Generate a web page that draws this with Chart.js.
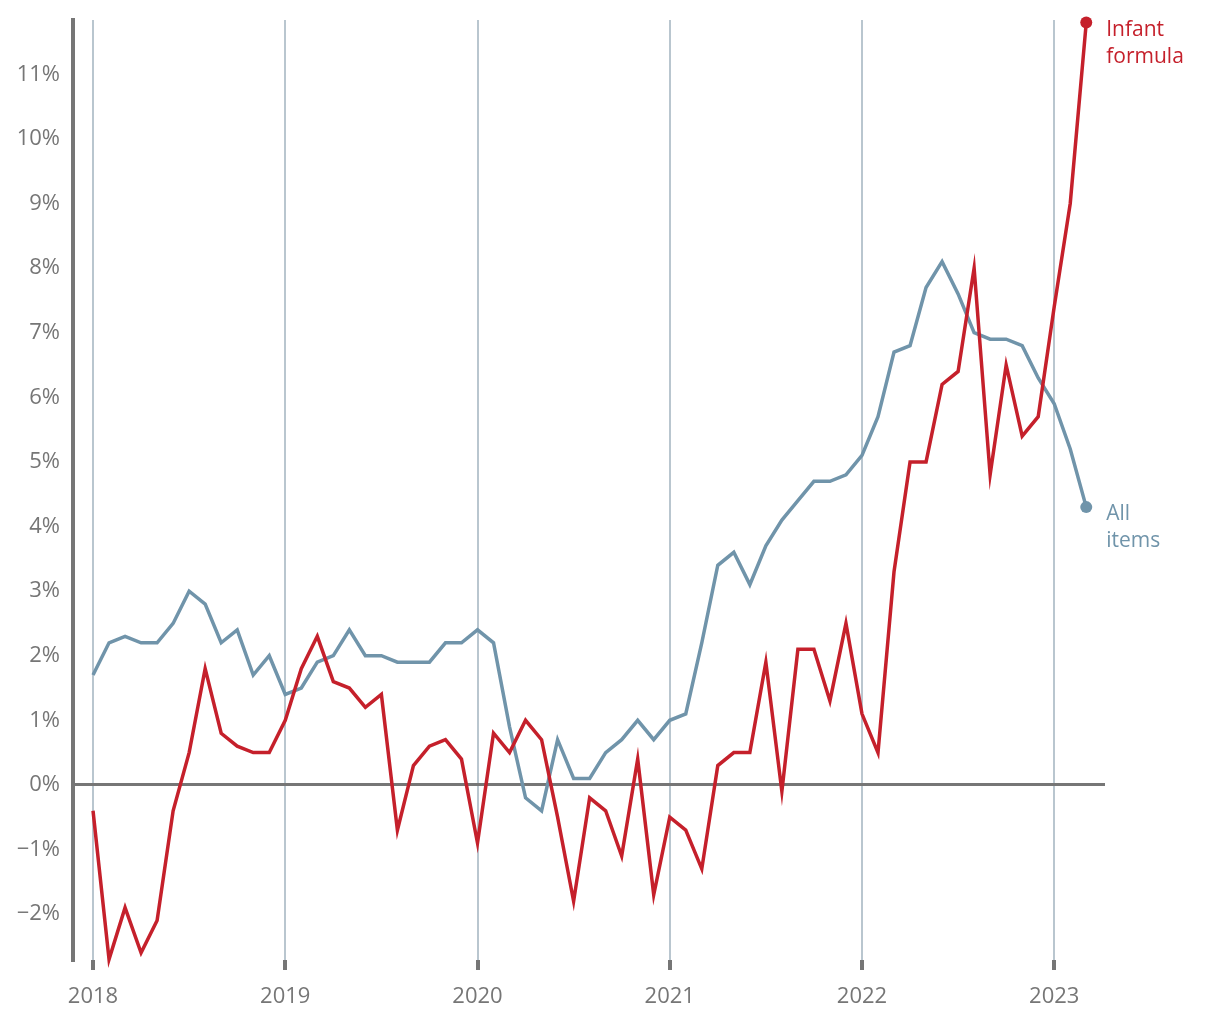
<!DOCTYPE html>
<html>
<head>
<meta charset="utf-8">
<script src="https://cdn.jsdelivr.net/npm/chart.js@4.4.0/dist/chart.umd.min.js"></script>
<style>
  body { margin: 0; background: #fff; }
  canvas { display: block; }
</style>
</head>
<body>
<canvas id="cpi" width="1220" height="1020"></canvas>
<script>
// monthly, Jan 2018 - Mar 2023
var months = [
  '2018-01','2018-02','2018-03','2018-04','2018-05','2018-06','2018-07','2018-08','2018-09','2018-10','2018-11','2018-12',
  '2019-01','2019-02','2019-03','2019-04','2019-05','2019-06','2019-07','2019-08','2019-09','2019-10','2019-11','2019-12',
  '2020-01','2020-02','2020-03','2020-04','2020-05','2020-06','2020-07','2020-08','2020-09','2020-10','2020-11','2020-12',
  '2021-01','2021-02','2021-03','2021-04','2021-05','2021-06','2021-07','2021-08','2021-09','2021-10','2021-11','2021-12',
  '2022-01','2022-02','2022-03','2022-04','2022-05','2022-06','2022-07','2022-08','2022-09','2022-10','2022-11','2022-12',
  '2023-01','2023-02','2023-03'
];

var infantFormula = [
  -0.4, -2.7, -1.9, -2.6, -2.1, -0.4, 0.5, 1.8, 0.8, 0.6, 0.5, 0.5,
  1.0, 1.8, 2.3, 1.6, 1.5, 1.2, 1.4, -0.7, 0.3, 0.6, 0.7, 0.4,
  -0.9, 0.8, 0.5, 1.0, 0.7, -0.5, -1.8, -0.2, -0.4, -1.1, 0.4, -1.7,
  -0.5, -0.7, -1.3, 0.3, 0.5, 0.5, 1.9, -0.1, 2.1, 2.1, 1.3, 2.5,
  1.1, 0.5, 3.3, 5.0, 5.0, 6.2, 6.4, 8.0, 4.8, 6.5, 5.4, 5.7,
  7.4, 9.0, 11.8
];

var allItems = [
  1.7, 2.2, 2.3, 2.2, 2.2, 2.5, 3.0, 2.8, 2.2, 2.4, 1.7, 2.0,
  1.4, 1.5, 1.9, 2.0, 2.4, 2.0, 2.0, 1.9, 1.9, 1.9, 2.2, 2.2,
  2.4, 2.2, 0.9, -0.2, -0.4, 0.7, 0.1, 0.1, 0.5, 0.7, 1.0, 0.7,
  1.0, 1.1, 2.2, 3.4, 3.6, 3.1, 3.7, 4.1, 4.4, 4.7, 4.7, 4.8,
  5.1, 5.7, 6.7, 6.8, 7.7, 8.1, 7.6, 7.0, 6.9, 6.9, 6.8, 6.3,
  5.9, 5.2, 4.3
];

var yTicks = [-2, -1, 0, 1, 2, 3, 4, 5, 6, 7, 8, 9, 10, 11];

var RED = '#c5202b';
var BLUE = '#7094aa';
var GREY = '#767676';
var FONT = '"Open Sans", "Noto Sans", sans-serif';

function toPoints(arr) {
  return arr.map(function(v, i) { return { x: i, y: v }; });
}

function lastDot(ctx) {
  return ctx.dataIndex === ctx.dataset.data.length - 1 ? 6 : 0;
}

// writes the series name next to its last point
var endLabels = {
  id: 'endLabels',
  afterDatasetsDraw: function(chart) {
    var c = chart.ctx;
    chart.data.datasets.forEach(function(ds, i) {
      var meta = chart.getDatasetMeta(i);
      var pt = meta.data[meta.data.length - 1];
      c.save();
      c.font = '21px ' + FONT;
      c.fillStyle = ds.borderColor;
      c.textAlign = 'left';
      c.textBaseline = 'middle';
      ds.endText.forEach(function(t, k) {
        c.fillText(t, pt.x + 20, pt.y + 7 + k * 27);
      });
      c.restore();
    });
  }
};

var ctx = document.getElementById('cpi').getContext('2d');
var chart = new Chart(ctx, {
  type: 'line',
  data: {
    datasets: [
      { label: 'Infant formula', endText: ['Infant', 'formula'], data: toPoints(infantFormula),
        borderColor: RED, backgroundColor: RED, pointBackgroundColor: RED },
      { label: 'All items', endText: ['All', 'items'], data: toPoints(allItems),
        borderColor: BLUE, backgroundColor: BLUE, pointBackgroundColor: BLUE }
    ]
  },
  options: {
    responsive: false,
    animation: false,
    devicePixelRatio: 1,
    layout: { padding: { left: 0, top: 20, right: 115, bottom: 0 } },
    elements: {
      line: { borderWidth: 3.5, tension: 0 },
      point: { radius: lastDot, hoverRadius: lastDot, borderWidth: 0 }
    },
    datasets: { line: { clip: false } },
    plugins: { legend: { display: false }, tooltip: { enabled: false } },
    scales: {
      x: {
        type: 'linear',
        min: -1.25,
        max: 63.17,
        afterFit: function(axis) {
          axis.height = 60;
          axis.paddingLeft = 0; axis.paddingRight = 0;
        },
        afterBuildTicks: function(axis) {
          var t = [];
          months.forEach(function(m, i) { if (m.slice(5) === '01') t.push({ value: i }); });
          axis.ticks = t;
        },
        border: { display: false },
        grid: {
          color: '#b9c6cf',
          lineWidth: 2,
          drawTicks: true,
          tickLength: 10,
          tickWidth: 4,
          tickColor: GREY
        },
        ticks: {
          padding: 14,
          color: GREY,
          font: { size: 22, family: FONT },
          maxRotation: 0,
          callback: function(v) { return months[v] ? months[v].slice(0, 4) : ''; }
        }
      },
      y: {
        min: -2.71,
        max: 11.84,
        afterFit: function(axis) {
          axis.width = 73;
          axis.paddingTop = 0; axis.paddingBottom = 0;
        },
        afterBuildTicks: function(axis) {
          axis.ticks = yTicks.map(function(v) { return { value: v }; });
        },
        border: { display: true, color: GREY, width: 4 },
        grid: {
          drawTicks: false,
          color: function(c) { return c.tick && c.tick.value === 0 ? GREY : 'rgba(0,0,0,0)'; },
          lineWidth: 3
        },
        ticks: {
          padding: 13,
          color: GREY,
          font: { size: 22, family: FONT },
          callback: function(v) { return (v < 0 ? '\u2212' : '') + Math.abs(v) + '%'; }
        }
      }
    }
  },
  plugins: [endLabels]
});
</script>
</body>
</html>
